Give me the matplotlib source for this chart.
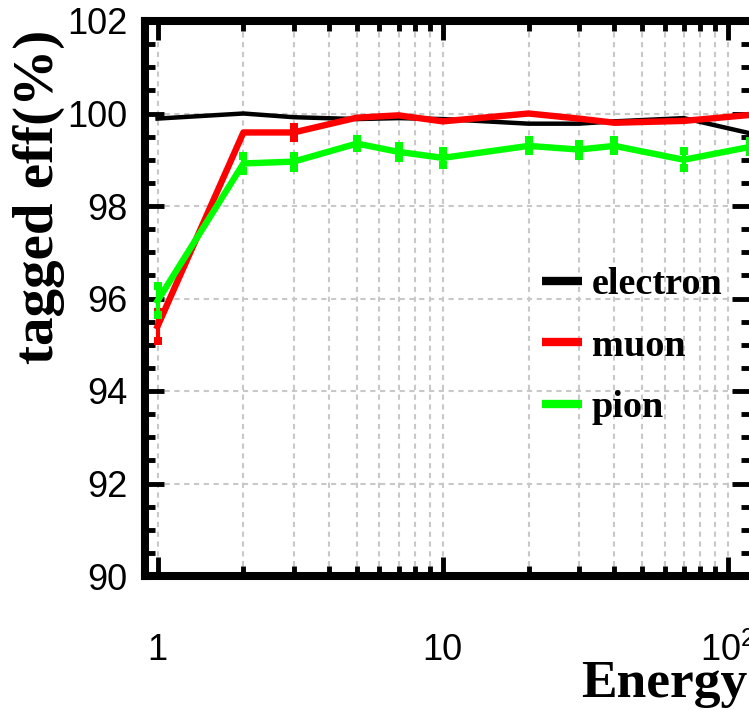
import matplotlib
matplotlib.use("Agg")
import matplotlib.pyplot as plt
from matplotlib.lines import Line2D
from matplotlib.ticker import FixedLocator, FixedFormatter, LogLocator, NullFormatter, MultipleLocator

# ---- data ----
energy = [1, 2, 3, 5, 7, 10, 20, 30, 40, 70, 120]
electron = [99.89, 100.0, 99.92, 99.88, 99.90, 99.88, 99.78, 99.78, 99.83, 99.90, 99.57]
muon = [95.40, 99.59, 99.59, 99.91, 99.96, 99.83, 100.0, 99.89, 99.80, 99.84, 99.97]
muon_err = [0.31, 0, 0.12, 0, 0, 0, 0, 0, 0, 0, 0]
pion = [95.95, 98.92, 98.96, 99.35, 99.17, 99.04, 99.30, 99.22, 99.30, 99.00, 99.28]
pion_err = [0.31, 0.17, 0.13, 0.10, 0.135, 0.16, 0.12, 0.13, 0.12, 0.18, 0.12]
series_labels = ["electron", "muon", "pion"]
xtick_vals = [1, 10, 100]
xtick_labels = ["1", "10", r"$\mathregular{10^{2}}$"]
ytick_vals = [90, 92, 94, 96, 98, 100, 102]

plt.rcParams['mathtext.fontset'] = 'custom'
plt.rcParams['mathtext.rm'] = 'Liberation Sans'

W, H = 749, 710
fig = plt.figure(figsize=(W / 100, H / 100), dpi=100)
L, R, B, T = 144.5, 750.5, 576, 21
ax = fig.add_axes([L / W, 1 - B / H, (R - L) / W, (B - T) / H])

ax.set_xscale('log')
ax.set_xlim(0.9, 120)
ax.set_ylim(90, 102)

# grid
grid_kw = dict(color='#c8c8c8', linewidth=1.5, linestyle=(0, (2.5, 2.2)))
ax.grid(True, which='major', axis='both', **grid_kw)
ax.grid(True, which='minor', axis='x', **grid_kw)
ax.set_axisbelow(True)

# lines
ax.plot(energy, electron, color='black', lw=3.2, zorder=3)
ax.plot(energy, muon, color='#ff0000', lw=4.6, zorder=4)
ax.plot(energy, pion, color='#00ff00', lw=4.6, zorder=5)

# error bars (only non-zero)
mx = [e for e, s in zip(energy, muon_err) if s > 0]
my = [v for v, s in zip(muon, muon_err) if s > 0]
ms = [s for s in muon_err if s > 0]
ax.errorbar(mx, my, yerr=ms, fmt='none', ecolor='#ff0000', elinewidth=3,
            capsize=3.0, capthick=5.8, zorder=4, clip_on=False)
ax.errorbar(energy, pion, yerr=pion_err, fmt='none', ecolor='#00ff00', elinewidth=3,
            capsize=3.0, capthick=5.8, zorder=5, clip_on=False)

# spines & ticks
for sp in ax.spines.values():
    sp.set_linewidth(5.8)
ax.xaxis.set_major_locator(FixedLocator(xtick_vals))
ax.xaxis.set_major_formatter(FixedFormatter(xtick_labels))
ax.xaxis.set_minor_locator(LogLocator(base=10, subs=range(2, 10), numticks=20))
ax.xaxis.set_minor_formatter(NullFormatter())
ax.yaxis.set_major_locator(FixedLocator(ytick_vals))
ax.yaxis.set_minor_locator(MultipleLocator(0.5))
ax.tick_params(which='both', direction='in', top=True, right=True, width=3.5)
ax.tick_params(which='major', length=14)
ax.tick_params(which='minor', length=7)
ax.tick_params(axis='x', which='major', pad=41)
ax.tick_params(axis='y', which='major', pad=12)
for lab in ax.get_xticklabels() + ax.get_yticklabels():
    lab.set_family('Liberation Sans')
    lab.set_fontsize(26)

# axis titles
fig.text(38.5 / W, 1 - 196.5 / H, 'tagged eff(%)', rotation=90, ha='center', va='center',
         family='Liberation Serif', weight='bold', fontsize=41)
fig.text(581 / W, 1 - 697 / H, 'Energy', ha='left', va='baseline',
         family='Liberation Serif', weight='bold', fontsize=38.5)

# legend
handles = [Line2D([], [], color=c, lw=6, solid_capstyle='butt')
           for c in ['black', '#ff0000', '#00ff00']]
leg = fig.legend(handles, series_labels, loc='upper left',
                 bbox_to_anchor=(542 / W, 1 - 267 / H), frameon=False,
                 prop=dict(family='Liberation Serif', weight='bold', size=27.5),
                 handlelength=1.05, handletextpad=0.25, labelspacing=0.70,
                 borderpad=0, borderaxespad=0)

fig.savefig('out.png', dpi=100)
